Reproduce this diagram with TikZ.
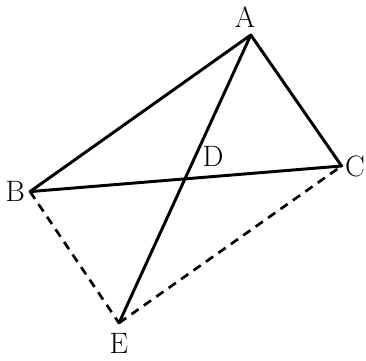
\documentclass[tikz,border=0pt]{standalone}
\usepackage{tikz}
\usetikzlibrary{positioning,calc}

\begin{document}
\begin{tikzpicture}[
  font=\fontsize{21}{24}\selectfont,
  edge/.style={line width=2.1pt,line cap=round,line join=round},
  hidden/.style={line width=1.9pt,dash pattern=on 2.2mm off 1.6mm},
]
\useasboundingbox (0,0) rectangle (9.15,9);

% Eckpunkte
\coordinate (A) at (6.27,8.125);
\coordinate (B) at (0.75,4.21);
\coordinate (C) at (8.54,4.85);
\coordinate (E) at (2.975,0.925);
\coordinate (D) at (intersection of A--E and B--C);

% Beschriftung
\node[above=2pt of A,xshift=-4pt] (lA) {A};
\node[left=0pt of B] (lB) {B};
\node[right=-1pt of C] (lC) {C};
\node[above right=5pt and 9pt of D] (lD) {D};
\node[below=4pt of E] (lE) {E};

% Dreieck und Strecke AE
\draw[edge] (A) -- (B) -- (C) -- (A);
\draw[edge] (A) -- (E);

% gestrichelt
\draw[hidden] (B) -- (E);
\draw[hidden] (E) -- (C);

\end{tikzpicture}
\end{document}
